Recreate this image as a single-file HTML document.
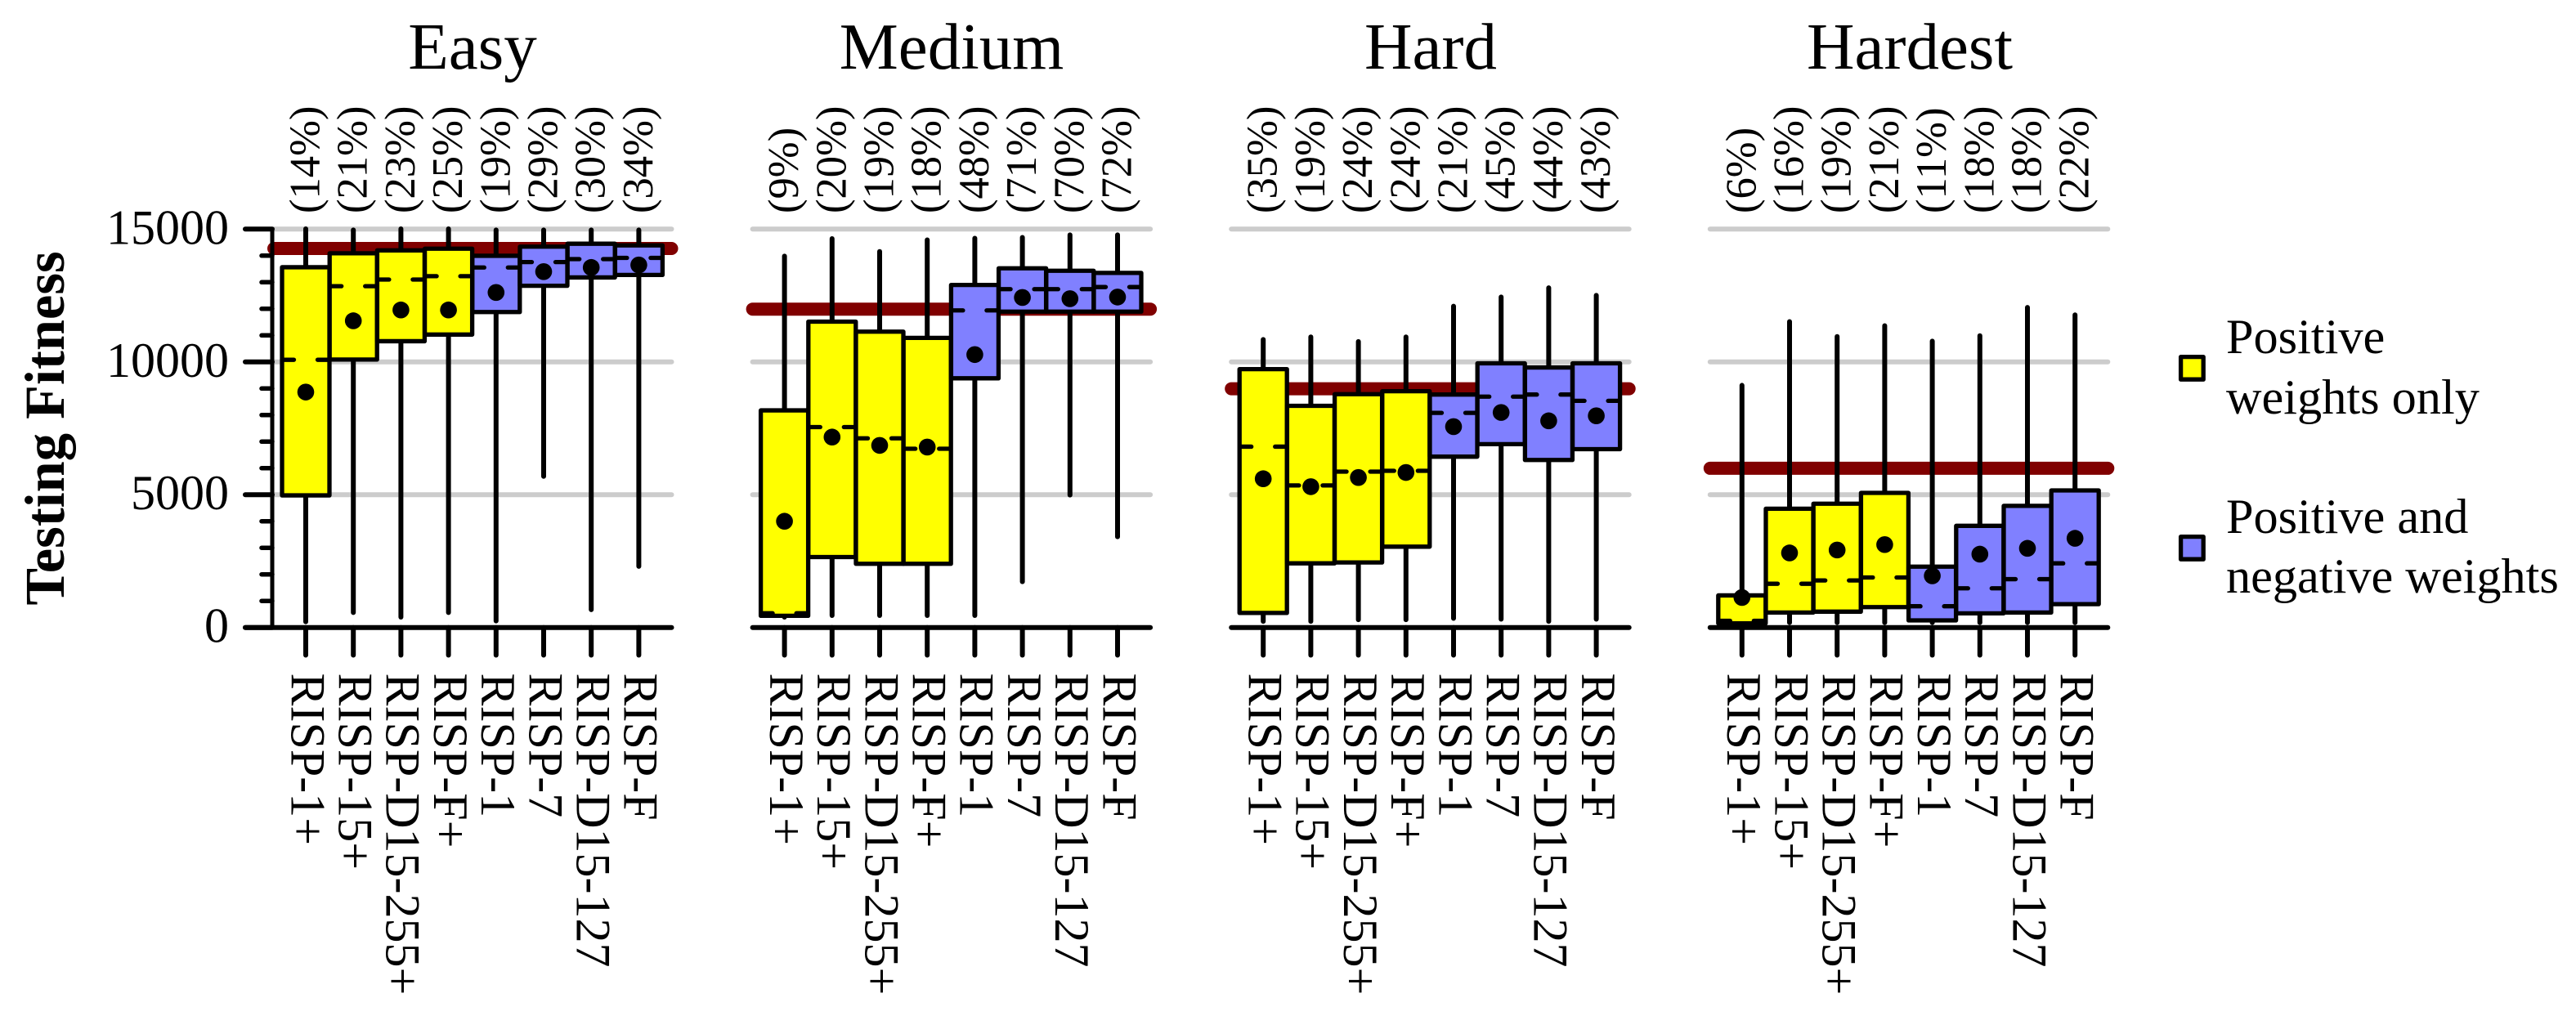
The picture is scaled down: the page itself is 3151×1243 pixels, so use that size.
<!DOCTYPE html>
<html>
<head>
<meta charset="utf-8">
<title>Testing Fitness box plots</title>
<style>
html,body{margin:0;padding:0;background:#fff;}
svg{display:block;}
text{font-family:"Liberation Serif",serif;fill:#000;}
</style>
</head>
<body>
<svg id="chart" xmlns="http://www.w3.org/2000/svg" width="3151" height="1243" viewBox="0 0 3151 1243">
  <rect x="0" y="0" width="3151" height="1243" fill="#fff"/>
  <text transform="translate(78,524) rotate(-90)" text-anchor="middle" font-size="68.5" font-weight="bold" style="font-weight:bold">Testing Fitness</text>
  <text x="578" y="84" text-anchor="middle" font-size="81">Easy</text>
  <text x="1164" y="84" text-anchor="middle" font-size="81">Medium</text>
  <text x="1750" y="84" text-anchor="middle" font-size="81">Hard</text>
  <text x="2336" y="84" text-anchor="middle" font-size="81">Hardest</text>
  <g id="panels"></g>
  <g>
    <rect x="2667.6" y="436.6" width="27.6" height="27.6" fill="#ffff00" stroke="#000" stroke-width="5.3" stroke-linejoin="round"/>
    <text x="2723" y="432" font-size="60.3">Positive</text>
    <text x="2723" y="506" font-size="60.3">weights only</text>
    <rect x="2667.6" y="656.6" width="27.6" height="27.6" fill="#8080ff" stroke="#000" stroke-width="5.3" stroke-linejoin="round"/>
    <text x="2723" y="652" font-size="60.3">Positive and</text>
    <text x="2723" y="725" font-size="60.3">negative weights</text>
  </g>
</svg>
<script>
// Categories and tick labels
const categories = ["RISP-1+","RISP-15+","RISP-D15-255+","RISP-F+","RISP-1","RISP-7","RISP-D15-127","RISP-F"];
const groupKinds = ["positive","positive","positive","positive","mixed","mixed","mixed","mixed"];
const panelNames = ["easy","medium","hard","hardest"];
const yTicksMajor = [0,5000,10000,15000];
const yTicksMinor = [1000,2000,3000,4000,6000,7000,8000,9000,11000,12000,13000,14000];

// Reference (dark red) levels
const baselines = [14270,11987,8990,5994];

// Percent labels
const easyPct = ["(14%)","(21%)","(23%)","(25%)","(19%)","(29%)","(30%)","(34%)"];
const mediumPct = ["(9%)","(20%)","(19%)","(18%)","(48%)","(71%)","(70%)","(72%)"];
const hardPct = ["(35%)","(19%)","(24%)","(24%)","(21%)","(45%)","(44%)","(43%)"];
const hardestPct = ["(6%)","(16%)","(19%)","(21%)","(11%)","(18%)","(18%)","(22%)"];

// Easy
const easyHigh = [15100,15060,15100,15100,15060,15060,15060,15060];
const easyQ3 = [13565,14090,14200,14262,13996,14341,14450,14388];
const easyMedian = [10080,12850,13101,13227,13556,13760,13870,13917];
const easyQ1 = [4974,10089,10779,11030,11877,12866,13180,13274];
const easyLow = [125,470,298,470,157,5601,580,2212];
const easyMean = [8865,11548,11956,11956,12615,13399,13556,13650];

// Medium
const mediumHigh = [14074,14733,14246,14686,14749,14780,14874,14874];
const mediumQ3 = [8175,11516,11140,10905,12897,13525,13431,13352];
const mediumMedian = [535,7547,7123,6731,11940,12740,12740,12819];
const mediumQ1 = [440,2652,2400,2400,9383,11893,11893,11893];
const mediumLow = [300,360,360,360,360,1632,4895,3326];
const mediumMean = [4000,7170,6857,6794,10277,12426,12380,12442];

// Hard
const hardHigh = [10936,11030,10857,11030,12191,12536,12881,12599];
const hardQ3 = [9728,8347,8786,8896,8771,9947,9791,9947];
const hardMedian = [6809,5350,5868,5899,8080,8692,8771,8535];
const hardQ1 = [549,2416,2448,3044,6433,6904,6307,6715];
const hardLow = [141,141,204,204,251,220,141,220];
const hardMean = [5601,5303,5648,5837,7563,8096,7782,7971];

// Hardest
const hardestHigh = [9210,11610,11046,11453,10873,11077,12144,11861];
const hardestQ3 = [1208,4472,4660,5068,2291,3828,4581,5162];
const hardestMedian = [251,1647,1773,1883,800,1475,1820,2416];
const hardestQ1 = [157,565,596,769,267,533,565,879];
const hardestLow = [94,94,94,94,94,94,94,94];
const hardestMean = [1130,2808,2918,3122,1946,2761,2981,3358];

const panelHigh = [easyHigh,mediumHigh,hardHigh,hardestHigh];
const panelQ3 = [easyQ3,mediumQ3,hardQ3,hardestQ3];
const panelMedian = [easyMedian,mediumMedian,hardMedian,hardestMedian];
const panelQ1 = [easyQ1,mediumQ1,hardQ1,hardestQ1];
const panelLow = [easyLow,mediumLow,hardLow,hardestLow];
const panelMean = [easyMean,mediumMean,hardMean,hardestMean];
const panelPct = [easyPct,mediumPct,hardPct,hardestPct];

const NS = "http://www.w3.org/2000/svg";
const root = document.getElementById("panels");
const colorFor = {positive:"#ffff00",mixed:"#8080ff"};
const yScale = v => 767.7 - v * (767.7 - 280.3) / 15000;
const gridStart = p => 332 + p * 585.6;
const gridEnd = p => gridStart(p) + 492.5;
const xScale = (p,i) => gridStart(p) + 42 + i * 58.2;

function el(tag, parent, attrs, text){
  const e = document.createElementNS(NS, tag);
  for (const k in attrs) e.setAttribute(k, attrs[k]);
  if (text !== undefined) e.textContent = text;
  parent.appendChild(e);
  return e;
}
function line(parent,x1,y1,x2,y2,stroke,w,cap){
  return el("line",parent,{x1:x1,y1:y1,x2:x2,y2:y2,stroke:stroke,"stroke-width":w,"stroke-linecap":cap||"round"});
}

panelNames.forEach((pname,p)=>{
  const g = el("g",root,{});
  
  
  const x0 = gridStart(p), x1 = gridEnd(p);

  yTicksMajor.forEach(t=>{
    if (t === 0) return;
    const gl = line(g,x0+3,yScale(t),x1-3,yScale(t),"#cccccc",6);
    
    
  });

  const red = line(g,x0+3,yScale(baselines[p]),x1-3,yScale(baselines[p]),"#800000",16);
  
  

  categories.forEach((cat,i)=>{
    const x = xScale(p,i);
    const bg = el("g",g,{});
    
    
    const wh = line(bg,x,yScale(panelHigh[p][i])+3,x,yScale(panelLow[p][i])-3,"#000",6);
    
    
    const yt = yScale(panelQ3[p][i]), yb = yScale(panelQ1[p][i]);
    const r = el("rect",bg,{x:x-29,y:yt,width:58,height:yb-yt,fill:colorFor[groupKinds[i]],stroke:"#000","stroke-width":5.3,"stroke-linejoin":"round"});
    
    
    const ym = yScale(panelMedian[p][i]);
    const m1 = line(bg,x-27,ym,x-14.5,ym,"#000",5.3);
    
    
    const m2 = line(bg,x+14.5,ym,x+27,ym,"#000",5.3);
    
    
    const dot = el("circle",bg,{cx:x,cy:yScale(panelMean[p][i]),r:10.3,fill:"#000"});
    
    
  });

  const ax = line(g,p===0?300:x0+3,767.7,x1-3,767.7,"#000",6);
  
  

  categories.forEach((cat,i)=>{
    const x = xScale(p,i);
    const tk = line(g,x,767.7,x,801.5,"#000",6);
    
    
    const lb = el("text",g,{transform:"translate("+(x-17.7)+",823.5) rotate(90)","font-size":60},cat);
    
    
    const pc = el("text",g,{transform:"translate("+(x+16.5)+",261) rotate(-90)","font-size":52.6},panelPct[p][i]);
    
    
  });

  if (p === 0){
    const axis = line(g,333,yScale(15000),333,767.7,"#000",5);
    
    
    yTicksMajor.forEach(t=>{
      const tk = line(g,300,yScale(t),333,yScale(t),"#000",6);
      
      
      const lb = el("text",g,{x:280,y:yScale(t)+18,"text-anchor":"end","font-size":60},String(t));
      
      
    });
    yTicksMinor.forEach(t=>{
      const tk = line(g,320,yScale(t),333,yScale(t),"#000",5.5);
      
      
    });
  }
});
</script>
</body>
</html>
